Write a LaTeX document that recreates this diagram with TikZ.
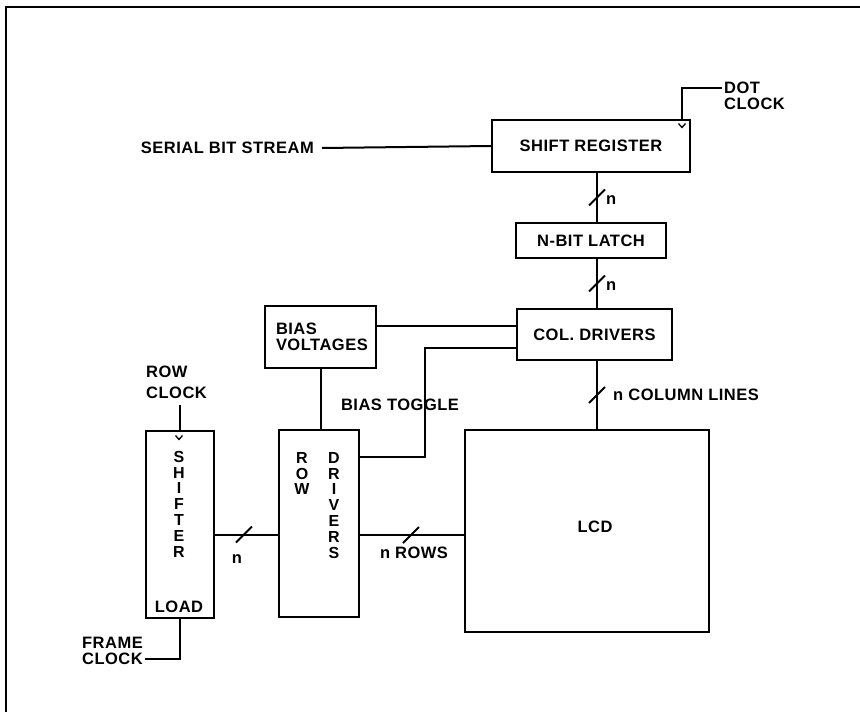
\documentclass[tikz,border=0pt]{standalone}
\usepackage{fontspec}
\setmainfont{Liberation Sans}[LetterSpace=3]
\usepackage{tikz}
\usetikzlibrary{positioning}

\newcommand{\busmark}[1]{\draw[wire] (#1) +(-8,8) -- +(8,-8);}
\newcommand{\clkmark}[1]{\draw[line width=1.3pt] (#1) +(-3.5,-2) -- +(0,2) -- +(3.5,-2);}

\begin{document}
\begin{tikzpicture}[x=1pt,y=-1pt,
  every node/.style={font=\fontsize{16.5}{14.5}\selectfont\bfseries},
  blk/.style={draw,line width=2pt,inner sep=0pt},
  wire/.style={line width=2pt},
  lbl/.style={inner sep=0pt},
  vtxt/.style={inner sep=0pt,align=center,anchor=north,
               font=\fontsize{16}{15.8}\selectfont\bfseries}
]
\useasboundingbox (0,0) rectangle (860,712);
% frame
\draw[line width=1.6pt] (6,712) -- (6,7) -- (860,7);

% blocks
\node[blk,minimum width=198,minimum height=52] (sreg) at (591,146) {SHIFT REGISTER};
\node[blk,minimum width=150,minimum height=35] (latch) at (591,240.5) {N-BIT LATCH};
\node[blk,minimum width=155,minimum height=51] (cold) at (594.5,334.5) {COL. DRIVERS};
\node[blk,minimum width=111,minimum height=62,text width=89,align=left,
      font=\fontsize{16.5}{16.5}\selectfont\bfseries] (bias) at (320.5,337) {BIAS\\VOLTAGES};
\node[blk,minimum width=80,minimum height=187] (rowd) at (319,523.5) {};
\node[blk,minimum width=68,minimum height=187] (shft) at (180,524.5) {};
\node[blk,minimum width=244,minimum height=202,
      label={[lbl,xshift=8,yshift=4]center:LCD}] (lcd) at (587,531) {};

% vertical texts
\node[vtxt] (rowtxt) at (302,452) {R\\O\\W};
\node[vtxt] (drvtxt) at (334,452) {D\\R\\I\\V\\E\\R\\S};
\node[vtxt] (shtxt) at (179,451) {S\\H\\I\\F\\T\\E\\R};
\node[lbl] (load) at (179,607) {LOAD};

% labels
\node[lbl,anchor=east] (serial) at (314,148) {SERIAL BIT STREAM};
\node[lbl,anchor=west,align=left,font=\fontsize{16.5}{16.5}\selectfont\bfseries] (dotclk) at (724,96) {DOT\\CLOCK};
\node[lbl,anchor=west,align=left,font=\fontsize{16.5}{21}\selectfont\bfseries] (rowclk) at (146,382.5) {ROW\\CLOCK};
\node[lbl,anchor=east,align=left,font=\fontsize{16.5}{16.5}\selectfont\bfseries] (frmclk) at (143,651) {FRAME\\CLOCK};
\node[lbl] (togtxt) at (400,405) {BIAS TOGGLE};
\node[lbl,anchor=west] (n1) at (606,200) {n};
\node[lbl,anchor=west] (n2) at (606,286) {n};
\node[lbl,anchor=west] (ncol) at (613,395) {n COLUMN LINES};
\node[lbl] (n4) at (237,559) {n};
\node[lbl] (nrows) at (414,553) {n ROWS};

% connectors
\draw[wire] ([xshift=8]serial.east) -- (sreg.west);
\draw[wire] ([xshift=-9]sreg.north east) |- ([xshift=-2,yshift=8]dotclk.west);
\clkmark{[xshift=-9,yshift=-6.5]sreg.north east}
\draw[wire] ([xshift=6]sreg.south) -- coordinate[pos=.5] (b1) ([xshift=6]sreg.south |- latch.north);
\busmark{b1}
\draw[wire] ([xshift=6]latch.south) -- coordinate[pos=.5] (b2) ([xshift=6]latch.south |- cold.north);
\busmark{b2}
\draw[wire] ([xshift=2.5]cold.south) -- coordinate[pos=.5] (b3) ([xshift=2.5]cold.south |- lcd.north);
\busmark{b3}
\draw[wire] ([yshift=11]bias.east) -- ([yshift=11]bias.east -| cold.west);
\draw[wire] (bias.south) -- (bias.south |- rowd.north);
\coordinate (tog) at (425,457);
\draw[wire] ([yshift=-13]cold.west) -| (tog) -- (tog -| rowd.east);
\draw[wire] ([yshift=-6]rowclk.south -| shft.north) -- (shft.north);
\clkmark{[xshift=-1,yshift=-7.5]shft.north}
\draw[wire] (shft.south) |- ([xshift=2,yshift=-8]frmclk.east);
\draw[wire] ([yshift=-10]shft.east) -- coordinate[pos=.46] (b4) ([yshift=-10]shft.east -| rowd.west);
\busmark{b4}
\draw[wire] ([yshift=-11.5]rowd.east) -- coordinate[pos=.49] (b5) ([yshift=-11.5]rowd.east -| lcd.west);
\busmark{b5}
\end{tikzpicture}
\end{document}
